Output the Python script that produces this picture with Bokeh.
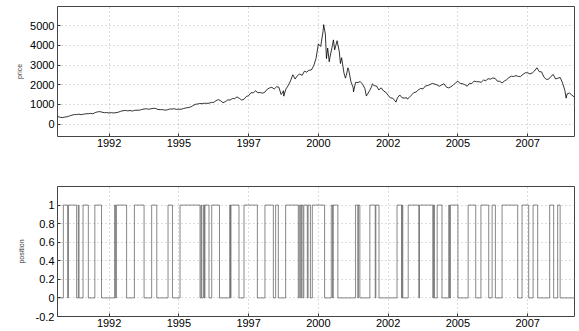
from bokeh.plotting import figure
from bokeh.layouts import column
from bokeh.models import FixedTicker, Range1d
from bokeh.embed import file_html
from bokeh.resources import INLINE

# ---------------- data ----------------
# monthly closes, first value = end of Aug 1990
price_start = 1990 + 8 / 12
price_monthly = [
    381, 344, 329, 359, 374,
    414, 453, 482, 484, 506, 476, 502, 525, 527, 542, 523, 586,
    620, 633, 603, 578, 585, 563, 581, 563, 583, 605, 652, 677,
    696, 671, 690, 661, 700, 704, 705, 742, 763, 779, 754, 777,
    800, 793, 743, 733, 735, 706, 722, 765, 764, 777, 750, 752,
    755, 793, 817, 843, 865, 933, 1001, 1020, 1044, 1036, 1059, 1052,
    1060, 1100, 1101, 1191, 1243, 1185, 1081, 1141, 1227, 1222, 1293, 1291,
    1380, 1309, 1222, 1261, 1400, 1442, 1594, 1587, 1686, 1594, 1601, 1570,
    1619, 1771, 1835, 1868, 1779, 1895, 1872, 1499, 1694, 1771, 1950, 2193,
    2505, 2288, 2461, 2543, 2471, 2686, 2638, 2739, 2746, 2966, 3336, 4069,
    3940, 4697, 4573, 3861, 3401, 3966, 3767, 4206, 3673, 3370, 2598, 2471,
    2773, 2152, 1840, 2116, 2110, 2161, 2027, 1805, 1499, 1690, 1931, 1950,
    1934, 1731, 1845, 1688, 1616, 1463, 1328, 1315, 1172, 1330, 1479, 1336,
    1321, 1338, 1341, 1464, 1596, 1623, 1735, 1810, 1787, 1932, 1960, 2003,
    2066, 2030, 1994, 1920, 1987, 2048, 1887, 1838, 1897, 1975, 2097, 2175,
    2062, 2052, 1999, 1922, 2068, 2057, 2185, 2152, 2152, 2120, 2233, 2205,
    2306, 2281, 2340, 2323, 2179, 2172, 2091, 2184, 2258, 2367, 2432, 2415,
    2464, 2416, 2422, 2525, 2605, 2603, 2546, 2596, 2702, 2859, 2661, 2652,
    2389, 2271, 2279, 2413, 2523, 2293, 2326, 2368, 2092, 1721, 1536, 1577,
    1476, 1378,
]
# intra-month highs / lows
price_extreme_dates = [1998.76, 2000.19, 2000.29, 2000.39, 2000.54, 2000.67,
                       2000.79, 2000.97, 2001.06, 2001.26, 2001.72, 2001.93,
                       2002.78, 2003.19, 2008.88]
price_extreme_values = [1419, 5048, 3321, 3164, 4274, 4234,
                        3074, 2332, 2859, 1638, 1423, 2044,
                        1114, 1271, 1316]

# trading position: switch dates and level after each switch
position_first_date = 1990.65
position_first_level = 0
position_switch_dates = [
    1990.860, 1991.014, 1991.043, 1991.336, 1991.397, 1991.422, 1991.566, 1991.755,
    1991.988, 1992.228, 1992.697, 1992.733, 1992.761, 1993.127, 1993.406, 1993.753,
    1994.025, 1994.208, 1994.612, 1994.770, 1995.042, 1995.758, 1995.794, 1995.819,
    1995.880, 1995.916, 1995.934, 1996.080, 1996.177, 1996.456, 1996.822, 1996.850,
    1996.868, 1997.155, 1997.334, 1997.813, 1998.085, 1998.386, 1998.469, 1998.565,
    1998.827, 1999.281, 1999.317, 1999.364, 1999.392, 1999.446, 1999.478, 1999.604,
    1999.632, 1999.715, 1999.783, 2000.223, 2000.463, 2000.509, 2000.534, 2000.699,
    2001.333, 2001.415, 2001.433, 2001.487, 2001.845, 2002.038, 2002.060, 2002.174,
    2002.819, 2002.980, 2003.005, 2003.026, 2003.220, 2003.599, 2003.624, 2004.101,
    2004.126, 2004.161, 2004.258, 2004.430, 2004.673, 2004.698, 2004.734, 2005.003,
    2005.368, 2005.640, 2005.826, 2006.106, 2006.227, 2006.345, 2006.585, 2007.144,
    2007.301, 2007.538, 2007.695, 2007.860, 2008.290, 2008.433, 2008.576, 2008.665,
]
position_switch_levels = [
    1, 0, 1, 0, 1, 0, 1, 0, 1, 0, 1, 0, 1, 0, 1, 0,
    1, 0, 1, 0, 1, 0, 1, 0, 1, 0, 1, 0, 1, 0, 1, 0,
    1, 0, 1, 0, 1, 0, 1, 0, 1, 0, 1, 0, 1, 0, 1, 0,
    1, 0, 1, 0, 1, 0, 1, 0, 1, 0, 1, 0, 1, 0, 1, 0,
    1, 0, 1, 0, 1, 0, 1, 0, 1, 0, 1, 0, 1, 0, 1, 0,
    1, 0, 1, 0, 1, 0, 1, 0, 1, 0, 1, 0, 1, 0, 1, 0,
]
position_last_date = 2009.18

x_ticks = [1992.5, 1995.0, 1997.5, 2000.0, 2002.5, 2005.0, 2007.5]
x_tick_labels = ["1992", "1995", "1997", "2000", "2002", "2005", "2007"]
price_ticks = [0, 1000, 2000, 3000, 4000, 5000]
position_ticks = [-0.2, 0, 0.2, 0.4, 0.6, 0.8, 1.0]
position_tick_labels = ["-0.2", "0", "0.2", "0.4", "0.6", "0.8", "1"]

# ---------------- build series ----------------
pts = [(price_start + i / 12, v) for i, v in enumerate(price_monthly)]
pts += list(zip(price_extreme_dates, price_extreme_values))
pts.sort()
price_x = [a for a, b in pts]
price_y = [b for a, b in pts]

pos_x = [position_first_date] + position_switch_dates + [position_last_date]
pos_y = [position_first_level] + position_switch_levels + [position_switch_levels[-1]]

FONT = "Liberation Sans"
x_range = Range1d(1990.65, 2009.18)


def style(p, yticks, ylabels, label, label_standoff):
    p.outline_line_color = "#444444"
    p.outline_line_width = 1
    p.xaxis.ticker = FixedTicker(ticks=x_ticks)
    p.xaxis.major_label_overrides = dict(zip(x_ticks, x_tick_labels))
    p.yaxis.ticker = FixedTicker(ticks=yticks)
    if ylabels:
        p.yaxis.major_label_overrides = dict(zip(yticks, ylabels))
    for ax in p.xaxis + p.yaxis:
        ax.axis_line_color = None
        ax.major_tick_in = 3
        ax.major_tick_out = 0
        ax.major_tick_line_color = "#333333"
        ax.minor_tick_line_color = None
        ax.major_label_text_font = FONT
        ax.major_label_text_font_size = "11px"
        ax.major_label_text_color = "black"
        ax.major_label_standoff = 2
    p.yaxis.major_label_standoff = 3
    p.yaxis.axis_label = label
    p.yaxis.axis_label_text_font = FONT
    p.yaxis.axis_label_text_font_size = "7px"
    p.yaxis.axis_label_text_font_style = "normal"
    p.yaxis.axis_label_text_color = "#333333"
    p.yaxis.axis_label_standoff = label_standoff
    for g in (p.xgrid, p.ygrid):
        g.grid_line_color = "#b8b8b8"
        g.grid_line_dash = "1 3"
        g.grid_line_width = 1
    p.background_fill_color = "white"
    p.border_fill_color = "white"


p1 = figure(width=579, height=160, x_range=x_range, y_range=Range1d(-630, 5970),
            output_backend="svg", toolbar_location=None,
            min_border_left=57, min_border_right=5, min_border_top=6, min_border_bottom=24)
p1.line(price_x, price_y, line_color="black", line_width=0.8)
style(p1, price_ticks, None, "price", 4)

p2 = figure(width=579, height=170, x_range=x_range, y_range=Range1d(-0.2, 1.2),
            output_backend="svg", toolbar_location=None,
            min_border_left=57, min_border_right=5, min_border_top=26, min_border_bottom=14)
p2.step(pos_x, pos_y, mode="after", line_color="#555555", line_width=0.7)
style(p2, position_ticks, position_tick_labels, "position", 8)

layout = column(p1, p2, spacing=0)
open("out.html", "w").write(file_html(layout, INLINE))
